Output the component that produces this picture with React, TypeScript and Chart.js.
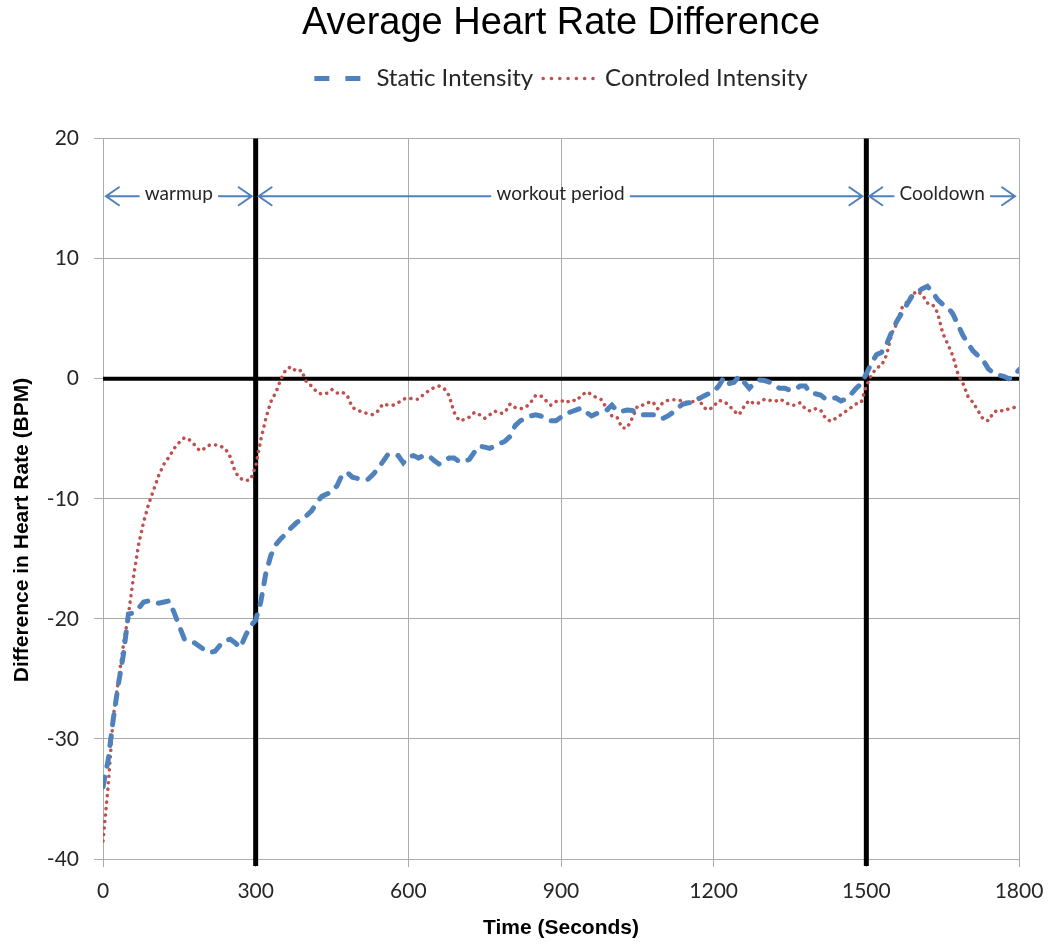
import { useEffect, useRef } from 'react';
import { Chart, registerables } from 'chart.js';

Chart.register(...registerables);

// Sample times (seconds), one sample every 10 s from 0 to 1800
const SAMPLE_STEP = 10;
const TIMES: number[] = Array.from({ length: 181 }, (_, i) => i * SAMPLE_STEP);

const STATIC_INTENSITY: number[] = [
  -34, -31.8, -28.4, -25.5, -23, -19.6, -19.5, -19.1, -18.6, -18.5,
  -18.6, -18.7, -18.6, -18.5, -19.5, -20.6, -21.7, -21.9, -22, -22.3,
  -22.6, -22.8, -22.7, -22.2, -21.8, -21.7, -22, -22.4, -21.4, -20.6,
  -20.1, -18.6, -16.2, -14.7, -13.8, -13.3, -12.9, -12.4, -12, -11.7,
  -11.4, -11, -10.3, -9.8, -9.6, -9.4, -8.9, -8.0, -7.8, -8.2,
  -8.3, -8.4, -8.4, -8.0, -7.5, -6.9, -6.3, -6.3, -6.4, -7.0,
  -6.5, -6.4, -6.6, -6.4, -6.4, -6.8, -7.1, -6.9, -6.6, -6.6,
  -6.9, -6.9, -6.7, -6.1, -5.6, -5.7, -5.8, -5.6, -5.4, -5.2,
  -4.8, -3.9, -3.5, -3.3, -3.1, -3.0, -3.1, -3.3, -3.5, -3.5,
  -3.2, -2.9, -2.75, -2.6, -2.45, -2.8, -3.1, -2.9, -2.7, -2.6,
  -2.2, -2.7, -2.7, -2.6, -2.65, -2.8, -3.0, -3.0, -3.0, -3.0,
  -3.3, -3.1, -2.8, -2.4, -2.1, -2.0, -2.0, -1.7, -1.45, -1.25,
  -1.1, -0.6, 0.1, -0.4, -0.3, 0.2, -0.3, -0.8, -0.35, -0.1,
  -0.15, -0.3, -0.6, -0.8, -0.8, -0.95, -0.9, -0.6, -0.6, -1.2,
  -1.25, -1.35, -1.7, -1.65, -1.6, -1.85, -1.7, -1.3, -0.8, -0.4,
  0.4, 1.3, 2.0, 2.2, 2.9, 3.9, 4.8, 5.5, 6.2, 6.9,
  7.2, 7.5, 7.7, 7.2, 6.6, 6.2, 5.95, 5.4, 4.5, 3.6,
  2.9, 2.3, 1.9, 1.5, 0.8, 0.5, 0.3, 0.2, 0, 0.2,
  0.75,
];

const CONTROLLED_INTENSITY: number[] = [
  -38.5, -34, -28.2, -25.2, -22.2, -19.6, -16.5, -13.8, -11.9, -10.4,
  -9.2, -8, -7.1, -6.5, -5.8, -5.3, -4.9, -5.1, -5.5, -6,
  -5.8, -5.5, -5.5, -5.6, -5.8, -6.5, -7.8, -8.3, -8.5, -8.4,
  -7.3, -5.1, -3.3, -1.9, -1.1, 0, 0.8, 1.0, 0.6, 0.7,
  -0.3, -0.6, -1.1, -1.3, -1.2, -0.9, -1.2, -1.1, -1.4, -2.4,
  -2.6, -2.8, -2.9, -3, -2.7, -2.1, -2.2, -2.2, -2.0, -1.7,
  -1.6, -1.7, -1.7, -1.3, -1.0, -0.75, -0.6, -0.8, -1.4, -2.8,
  -3.5, -3.4, -3.2, -2.8, -3.0, -3.3, -3.0, -2.7, -2.9, -2.8,
  -2.1, -2.4, -2.5, -2.4, -2.0, -1.4, -1.4, -1.8, -2.2, -1.9,
  -1.8, -2.0, -1.75, -1.85, -1.4, -1.1, -1.3, -1.6, -1.75, -2.5,
  -3.1, -3.2, -4.1, -4.1, -3.3, -2.3, -2.2, -2.0, -1.9, -2.5,
  -2.0, -1.8, -1.75, -1.75, -1.9, -2.0, -1.9, -1.6, -2.4, -2.6,
  -2.3, -1.8, -1.9, -2.2, -2.7, -3.0, -2.3, -1.8, -2.1, -2.0,
  -1.7, -1.8, -1.9, -1.7, -1.9, -2.2, -2.2, -2.0, -2.5, -2.7,
  -2.5, -2.6, -3.3, -3.55, -3.3, -3.0, -2.7, -2.4, -2.1, -1.97,
  -0.6, 0.3, 0.9, 1.1, 2.0, 3.8, 4.6, 5.9, 6.4, 7.0,
  7.3, 7.0, 6.3, 6.2, 5.5, 3.8, 2.9, 1.9, 0.4, -0.4,
  -1.5, -2.0, -2.7, -3.4, -3.5, -2.8, -2.6, -2.7, -2.5, -2.4,
  -2.3,
];

const SERIES_LABELS = ['Static Intensity', 'Controled Intensity'];

// Workout phases (seconds)
const PHASE_LABELS = ['warmup', 'workout period', 'Cooldown'];
const PHASE_STARTS = [0, 300, 1500];
const PHASE_ENDS = [300, 1500, 1800];
const PHASE_BOUNDARIES = [300, 1500];
const PHASE_ARROW_LEVEL = 15.2;

const BLUE = '#4F81BD';
const RED = '#C0504D';
const GRID = '#ABABAB';
const TEXT = '#262626';

const overlayPlugin = {
  id: 'overlay',
  beforeDatasetsDraw(chart: any) {
    const { ctx, chartArea, scales } = chart;
    const x = scales.x;
    const y = scales.y;
    ctx.save();
    ctx.strokeStyle = '#000';
    ctx.lineCap = 'butt';
    ctx.lineWidth = 4;
    const y0 = y.getPixelForValue(0);
    ctx.beginPath();
    ctx.moveTo(chartArea.left, y0);
    ctx.lineTo(chartArea.right, y0);
    ctx.stroke();
    ctx.lineWidth = 5;
    for (const b of PHASE_BOUNDARIES) {
      const px = x.getPixelForValue(b);
      ctx.beginPath();
      ctx.moveTo(px, chartArea.top);
      ctx.lineTo(px, chartArea.bottom + 7);
      ctx.stroke();
    }
    ctx.restore();
  },
  afterDraw(chart: any) {
    const { ctx, scales } = chart;
    const x = scales.x;
    const y = scales.y;
    const ay = y.getPixelForValue(PHASE_ARROW_LEVEL);
    ctx.save();
    ctx.font = '19px Lato';
    ctx.textAlign = 'center';
    ctx.textBaseline = 'middle';
    for (let i = 0; i < PHASE_LABELS.length; i++) {
      const xs = x.getPixelForValue(PHASE_STARTS[i]) + 3;
      const xe = x.getPixelForValue(PHASE_ENDS[i]) - 4;
      const mid = (xs + xe) / 2;
      const tw = ctx.measureText(PHASE_LABELS[i]).width;
      const gap = tw / 2 + 6;
      ctx.strokeStyle = BLUE;
      ctx.lineWidth = 2;
      ctx.lineCap = 'round';
      ctx.beginPath();
      ctx.moveTo(xs, ay);
      ctx.lineTo(mid - gap, ay);
      ctx.moveTo(mid + gap, ay);
      ctx.lineTo(xe, ay);
      // arrow heads
      ctx.moveTo(xs + 13, ay - 9);
      ctx.lineTo(xs, ay);
      ctx.lineTo(xs + 13, ay + 9);
      ctx.moveTo(xe - 13, ay - 9);
      ctx.lineTo(xe, ay);
      ctx.lineTo(xe - 13, ay + 9);
      ctx.stroke();
      ctx.fillStyle = TEXT;
      ctx.fillText(PHASE_LABELS[i], mid, ay - 2);
    }
    // y-axis title
    ctx.translate(22, 530);
    ctx.rotate(-Math.PI / 2);
    ctx.font = 'bold 21px "Liberation Sans"';
    ctx.fillStyle = '#000';
    ctx.textAlign = 'center';
    ctx.textBaseline = 'middle';
    ctx.fillText('Difference in Heart Rate (BPM)', 0, 0);
    ctx.restore();
  },
};

export default function App() {
  const ref = useRef<HTMLCanvasElement | null>(null);

  useEffect(() => {
    if (!ref.current) return;
    const chart = new Chart(ref.current, {
      type: 'line',
      data: {
        datasets: [
          {
            label: SERIES_LABELS[0],
            data: TIMES.map((t, i) => ({ x: t, y: STATIC_INTENSITY[i] })),
            borderColor: BLUE,
            backgroundColor: BLUE,
            borderWidth: 5,
            borderDash: [10, 11],
            borderCapStyle: 'round',
            pointRadius: 0,
            tension: 0,
            xAxisID: 'x',
            yAxisID: 'y',
          },
          {
            label: SERIES_LABELS[1],
            data: TIMES.map((t, i) => ({ x: t, y: CONTROLLED_INTENSITY[i] })),
            borderColor: RED,
            backgroundColor: RED,
            borderWidth: 3.5,
            borderDash: [0.1, 6.4],
            borderCapStyle: 'round',
            pointRadius: 0,
            tension: 0,
            xAxisID: 'x',
            yAxisID: 'y',
          },
        ],
      },
      options: {
        responsive: false,
        animation: false,
        events: [],
        layout: { padding: { left: 0, right: 29, top: 0, bottom: 0 } },
        plugins: {
          title: {
            display: true,
            text: 'Average Heart Rate Difference',
            fullSize: false,
            color: '#000',
            font: { family: '"Liberation Sans"', size: 38, weight: 'normal' },
            padding: { top: 1, bottom: 10 },
          },
          legend: {
            display: true,
            position: 'top',
            fullSize: false,
            labels: {
              usePointStyle: true,
              pointStyleWidth: 50,
              padding: 10,
              color: TEXT,
              font: { family: 'Lato', size: 24 },
              generateLabels: (c: any) =>
                c.data.datasets.map((ds: any, i: number) => ({
                  text: ds.label,
                  fillStyle: ds.borderColor,
                  strokeStyle: ds.borderColor,
                  fontColor: TEXT,
                  lineWidth: i === 0 ? 5 : 3.5,
                  lineDash: i === 0 ? [15, 16] : [0.1, 8.2],
                  lineCap: i === 0 ? 'butt' : 'round',
                  pointStyle: 'line',
                  hidden: false,
                  datasetIndex: i,
                })),
            },
          },
          tooltip: { enabled: false },
        },
        scales: {
          x: {
            type: 'linear',
            position: 'bottom',
            min: 0,
            max: 1800,
            ticks: {
              stepSize: 300,
              padding: 12,
              color: TEXT,
              font: { family: 'Lato', size: 21 },
              callback: (v: any) => String(v),
            },
            grid: { color: GRID, lineWidth: 1, tickLength: 8, drawTicks: true },
            border: { color: GRID, width: 1 },
            title: {
              display: true,
              text: 'Time (Seconds)',
              color: '#000',
              font: { family: '"Liberation Sans"', size: 21, weight: 'bold' },
              padding: { top: 0, bottom: 4 },
            },
            afterFit: (s: any) => {
              s.height = 86;
              s.paddingLeft = 0;
              s.paddingRight = 0;
            },
          },
          xTop: {
            type: 'linear',
            position: 'top',
            display: true,
            grid: { display: false },
            border: { display: false },
            ticks: { display: false },
            afterFit: (s: any) => {
              s.height = 38;
              s.paddingLeft = 0;
              s.paddingRight = 0;
            },
          },
          y: {
            type: 'linear',
            min: -40,
            max: 20,
            ticks: {
              stepSize: 10,
              padding: 15,
              color: TEXT,
              font: { family: 'Lato', size: 21 },
              callback: (v: any) => String(v),
            },
            grid: { color: GRID, lineWidth: 1, tickLength: 9, drawTicks: true },
            border: { color: GRID, width: 1 },
            afterFit: (s: any) => {
              s.width = 103;
            },
          },
        },
      } as any,
      plugins: [overlayPlugin],
    });
    return () => chart.destroy();
  }, []);

  return (
    <div style={{ position: 'absolute', left: 0, top: 0, width: 1048, height: 945, background: '#fff' }}>
      <canvas ref={ref} width={1048} height={945} style={{ display: 'block' }} />
    </div>
  );
}
